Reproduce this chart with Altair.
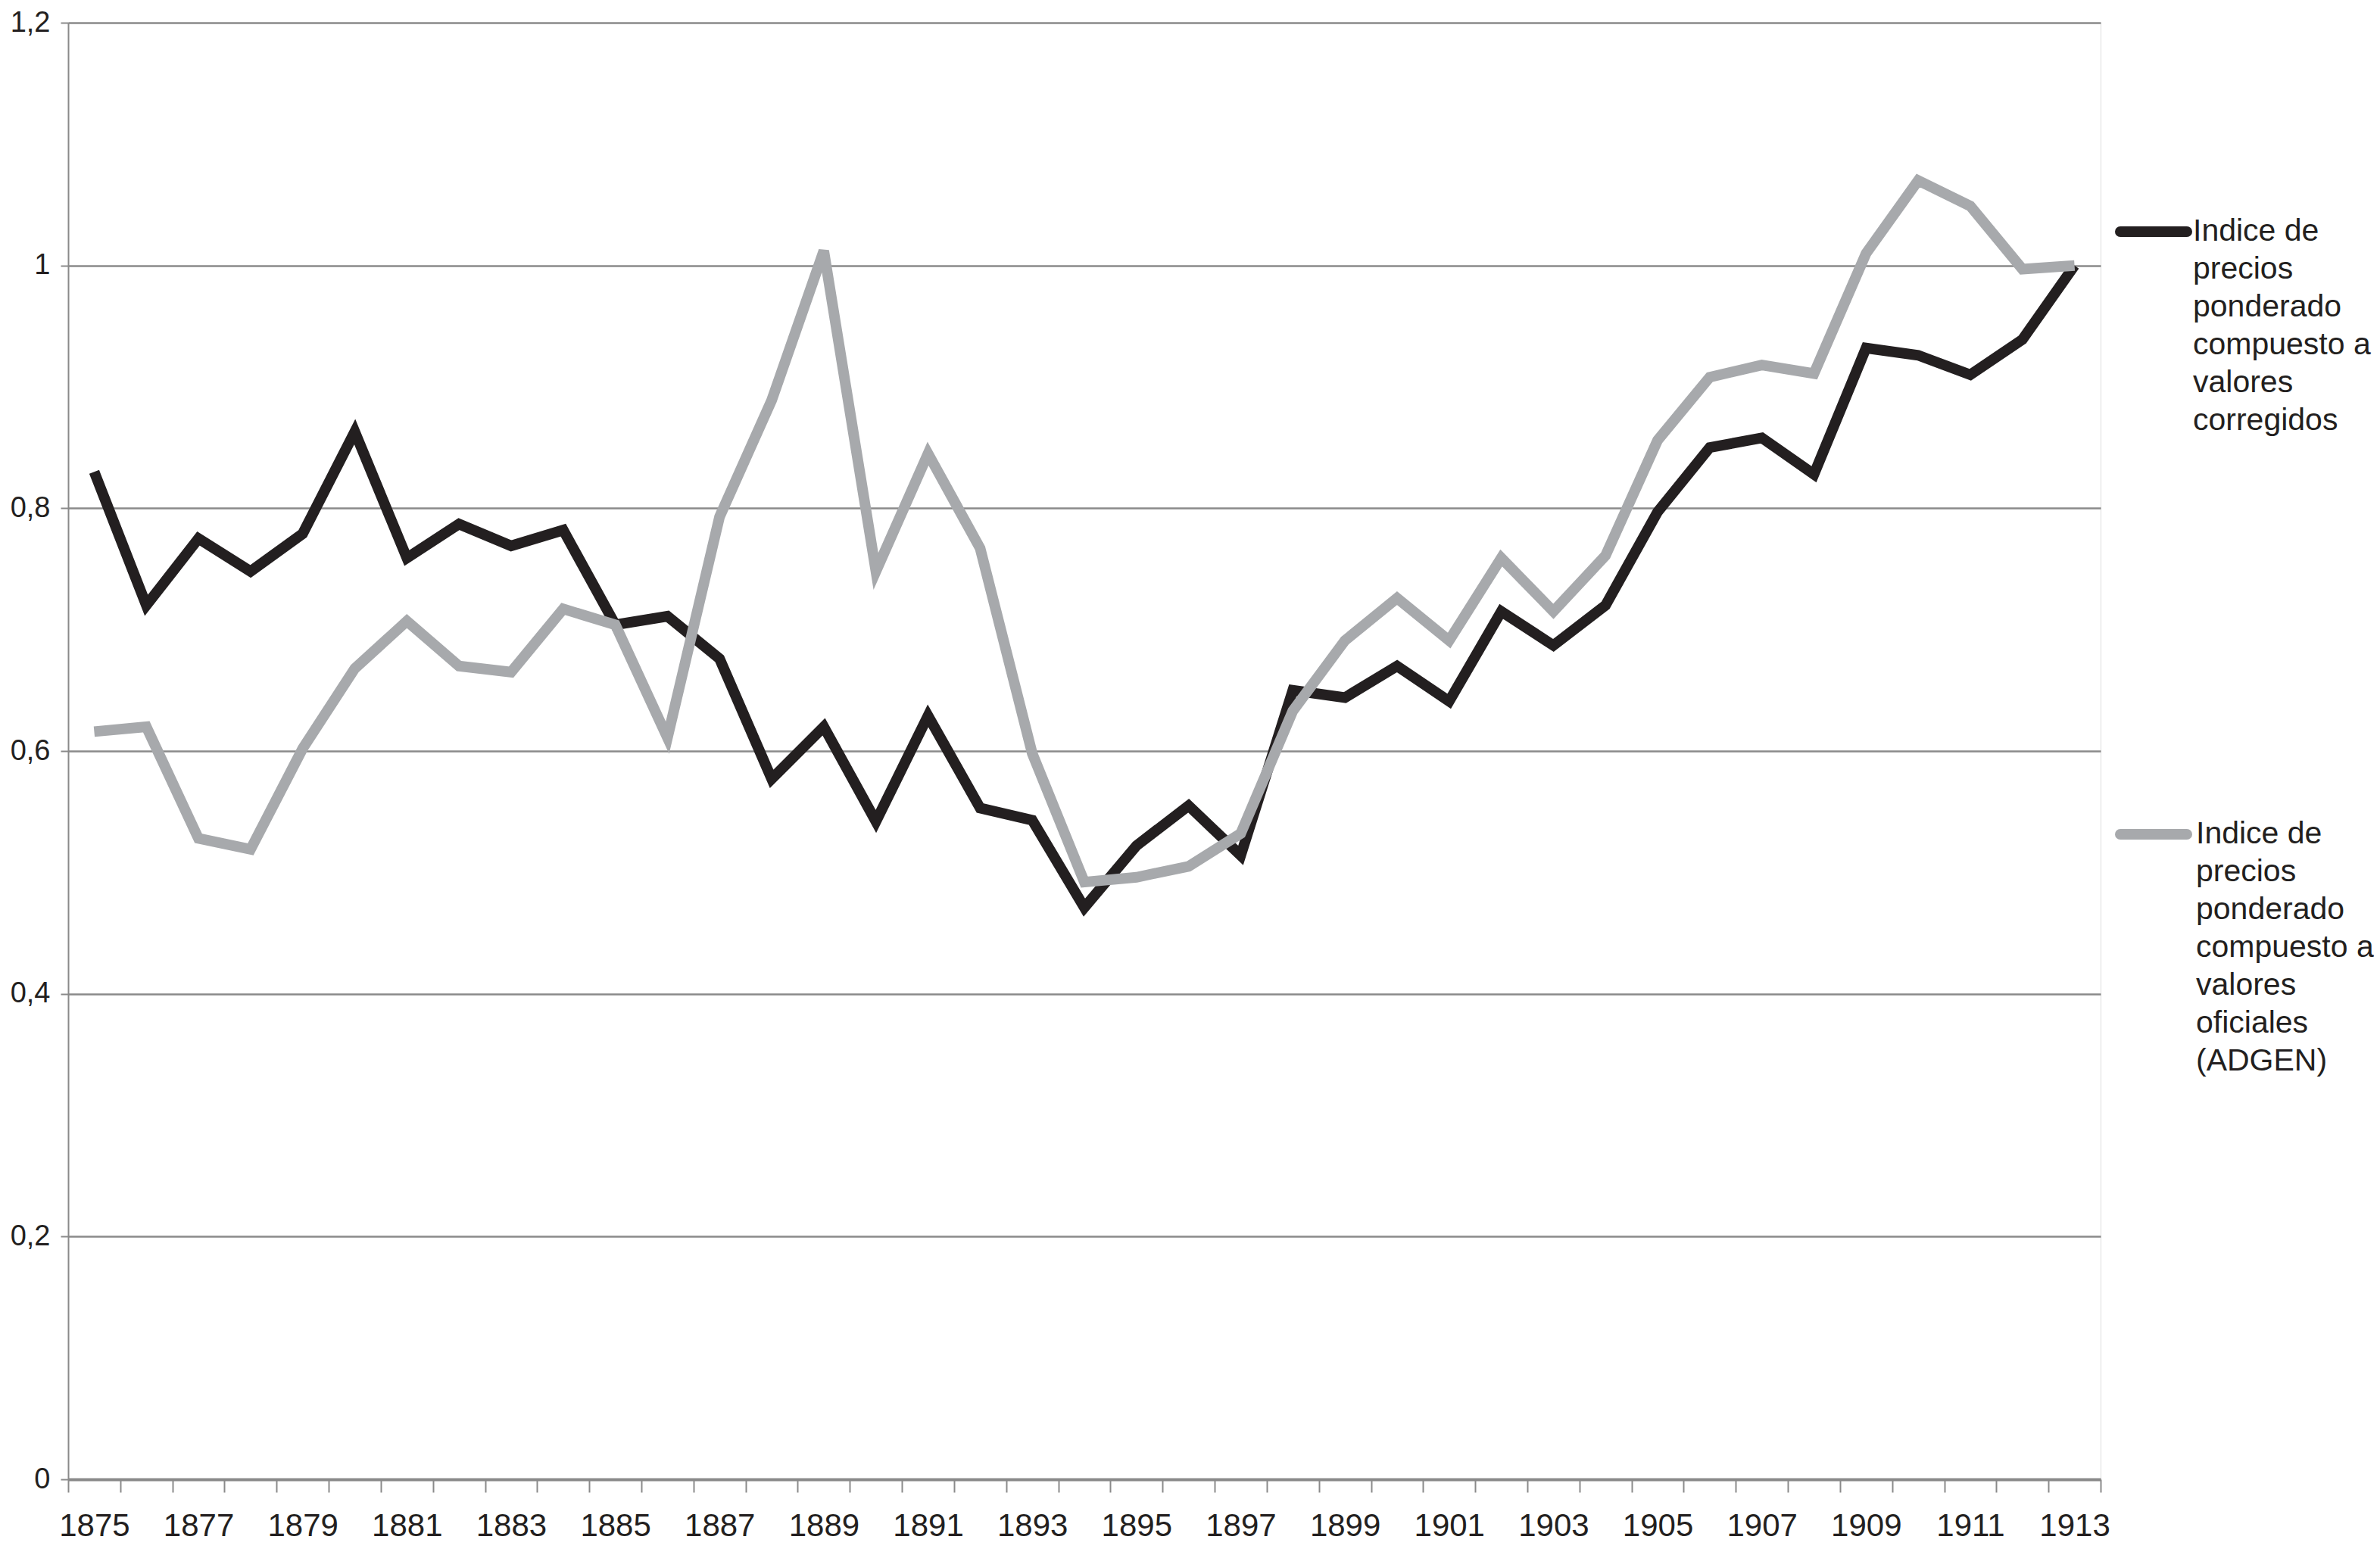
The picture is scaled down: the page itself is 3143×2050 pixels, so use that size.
import altair as alt
import pandas as pd

years = list(range(1875, 1914))

corregidos = [0.830, 0.720, 0.775, 0.748, 0.779, 0.863, 0.759, 0.787, 0.769, 0.782,
              0.704, 0.711, 0.676, 0.577, 0.620, 0.542, 0.629, 0.553, 0.543, 0.471,
              0.522, 0.555, 0.514, 0.650, 0.644, 0.670, 0.641, 0.715, 0.687, 0.720,
              0.797, 0.850, 0.858, 0.828, 0.932, 0.926, 0.910, 0.939, 1.000]

oficiales = [0.616, 0.620, 0.528, 0.519, 0.602, 0.668, 0.707, 0.670, 0.665, 0.717,
             0.704, 0.611, 0.793, 0.889, 1.012, 0.748, 0.845, 0.767, 0.598, 0.492,
             0.496, 0.505, 0.532, 0.633, 0.691, 0.726, 0.691, 0.759, 0.715, 0.761,
             0.856, 0.908, 0.918, 0.911, 1.010, 1.070, 1.049, 0.997, 1.000]

series_names = [
    "Indice de\nprecios\nponderado\ncompuesto a\nvalores\ncorregidos",
    "Indice de\nprecios\nponderado\ncompuesto a\nvalores\noficiales\n(ADGEN)",
]
series_colors = ["#231f20", "#a7a9ac"]
y_ticks = [0, 0.2, 0.4, 0.6, 0.8, 1.0, 1.2]

W, H = 2684, 1924
FONT = "Liberation Sans"

rows = []
for i, y in enumerate(years):
    rows.append({"year": str(y), "value": corregidos[i], "serie": "corr", "order": 0})
    rows.append({"year": str(y), "value": oficiales[i], "serie": "ofic", "order": 1})
df = pd.DataFrame(rows)

x_enc = alt.X(
    "year:O",
    sort=[str(y) for y in years],
    scale=alt.Scale(paddingInner=0, paddingOuter=0),
    axis=alt.Axis(
        title=None,
        tickBand="extent",
        labelExpr="toNumber(datum.value) % 2 == 1 ? datum.value : ''",
        labelAngle=0,
        labelOverlap=False,
        labelFontSize=42,
        labelFont=FONT,
        labelColor="#231f20",
        labelPadding=24,
        tickSize=17,
        tickColor="#8a8a8a",
        tickWidth=2,
        domainColor="#8a8a8a",
        domainWidth=4,
        grid=False,
    ),
)
y_enc = alt.Y(
    "value:Q",
    scale=alt.Scale(domain=[0, 1.2], nice=False, zero=True),
    axis=alt.Axis(
        title=None,
        values=y_ticks,
        labelExpr="replace(format(datum.value, '~g'), '.', ',')",
        labelFontSize=38,
        labelFont=FONT,
        labelColor="#231f20",
        labelPadding=14,
        tickSize=10,
        tickColor="#8a8a8a",
        tickWidth=2,
        domainColor="#8a8a8a",
        domainWidth=2,
        grid=True,
        gridColor="#8a8a8a",
        gridWidth=2.5,
    ),
)

lines = alt.Chart(df).mark_line(strokeWidth=14, strokeJoin="miter").encode(
    x=x_enc,
    y=y_enc,
    color=alt.Color("serie:N", scale=alt.Scale(domain=["corr", "ofic"], range=series_colors), legend=None),
    order=alt.Order("order:Q"),
)

# manual legend
leg_df = pd.DataFrame({
    "name": series_names,
    "color": series_colors,
})
black_leg = alt.Chart(leg_df.iloc[[0]]).mark_rule(strokeWidth=14, color=series_colors[0], strokeCap="round").encode(
    x=alt.value(W + 26), x2=alt.value(W + 114), y=alt.value(276)
)
gray_leg = alt.Chart(leg_df.iloc[[1]]).mark_rule(strokeWidth=14, color=series_colors[1], strokeCap="round").encode(
    x=alt.value(W + 26), x2=alt.value(W + 114), y=alt.value(1072)
)
black_txt = alt.Chart(leg_df.iloc[[0]]).mark_text(
    align="left", baseline="middle", lineBreak="\n", lineHeight=50,
    fontSize=41, font=FONT, color="#231f20"
).encode(x=alt.value(W + 122), y=alt.value(276), text="name:N")
gray_txt = alt.Chart(leg_df.iloc[[1]]).mark_text(
    align="left", baseline="middle", lineBreak="\n", lineHeight=50,
    fontSize=41, font=FONT, color="#231f20"
).encode(x=alt.value(W + 126), y=alt.value(1072), text="name:N")

chart = alt.layer(lines, black_leg, gray_leg, black_txt, gray_txt).properties(
    width=W, height=H,
    autosize=alt.AutoSizeParams(type="none"),
    padding={"left": 82, "top": 22, "right": 361, "bottom": 88},
).configure_view(stroke=None).configure(background="white")

chart.save("out.html", embed_options={"renderer": "svg", "actions": False})
